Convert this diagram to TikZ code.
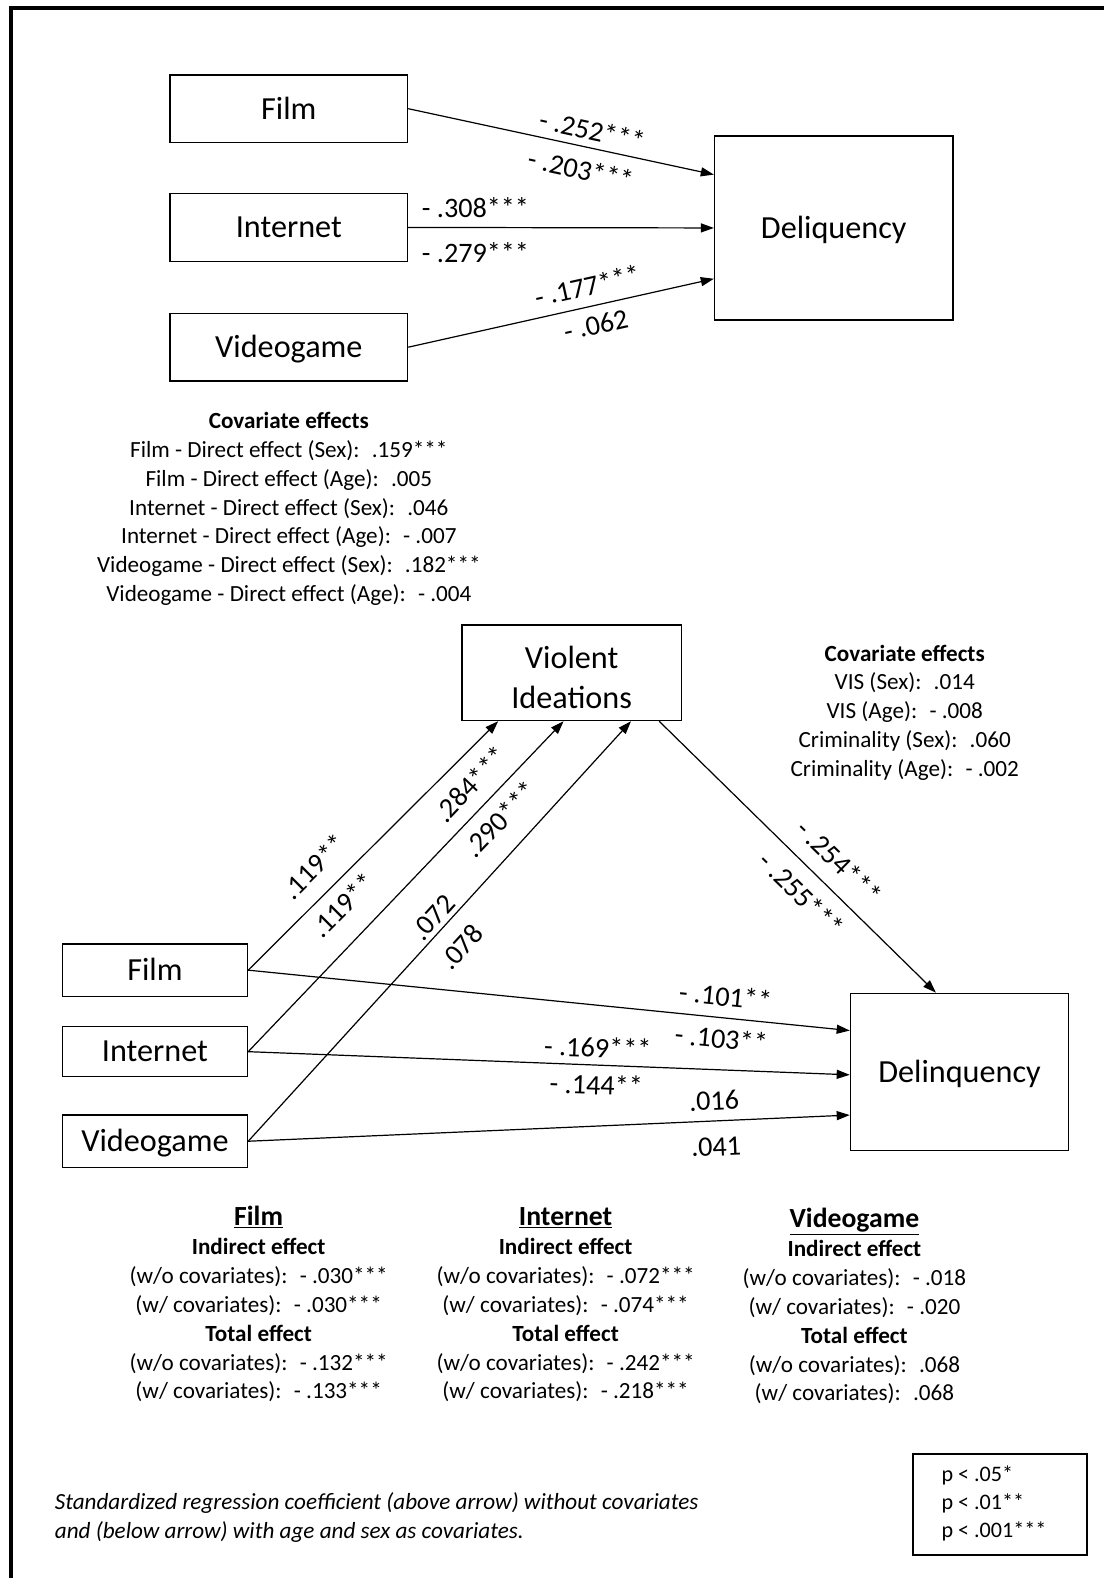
\documentclass[tikz,border=0pt]{standalone}
\usepackage{fontspec}
\setmainfont{Carlito}
\usetikzlibrary{arrows.meta}

\begin{document}
\begin{tikzpicture}[x=1pt, y=-1pt,
		varbox/.style={draw, line width=1.3pt, font=\fontsize{32}{40}\selectfont, align=center, text height=20.5pt, text depth=0pt},
		coef/.style={font=\fontsize{28}{32}\selectfont, inner sep=0pt},
		cov/.style={font=\fontsize{23}{28}\selectfont, anchor=base},
		covhead/.style={cov, font=\fontsize{23}{28}\selectfont\bfseries},
		link/.style={line width=1.2pt, -{Triangle[length=13pt, width=9pt]}}]

	\useasboundingbox (0,0) rectangle (1097,1568);

	% Outer frame, cut off at right and bottom
	\draw[line width=4.5pt] (11,1568) -- (11,8) -- (1097,8);

	% Top model: media use -> delinquency
	\node[varbox, minimum width=236pt, minimum height=67pt] (film1) at (287,108) {Film};
	\node[varbox, minimum width=236pt, minimum height=67pt] (inet1) at (287,226) {Internet};
	\node[varbox, minimum width=236pt, minimum height=67pt] (game1) at (287,345) {Videogame};
	\node[varbox, minimum width=237pt, minimum height=183pt] (deliq) at (828.5,226.5) {Deliquency};

	\draw[link] (film1.east) -- node[coef, sloped, above=7pt, pos=0.59] {- .252***}
		node[coef, sloped, below=12pt, pos=0.58] {- .203***} ([yshift=53pt]deliq.west);
	\draw[link] (inet1.east) -- node[coef, above=9pt, pos=0.22] {- .308***}
		node[coef, below=14pt, pos=0.22] {- .279***} (deliq.west);
	\draw[link] (game1.east) -- node[coef, sloped, above=10pt, pos=0.6] {- .177***}
		node[coef, sloped, below=9pt, pos=0.6] {- .062} ([yshift=-50.5pt]deliq.west);

	% Covariate effects, top model
	\node[covhead] (covtop) at (287,426) {Covariate effects};
	\foreach \txt [count=\i] in {
			{Film - Direct effect (Sex):~ .159***},
			{Film - Direct effect (Age):~ .005},
			{Internet - Direct effect (Sex):~ .046},
			{Internet - Direct effect (Age):~ - .007},
			{Videogame - Direct effect (Sex):~ .182***},
			{Videogame - Direct effect (Age):~ - .004}
		} {
			\node[cov] (covtop\i) at (287,{426+28.6*\i}) {\txt};
		}

	% Bottom model: media use -> violent ideations -> delinquency
	\node[varbox, minimum width=218pt, minimum height=95pt] (vis) at (568,668.5) {};
	\node[font=\fontsize{32}{40}\selectfont, align=center] (vistext) at ([yshift=-5pt]vis.center) {Violent\\Ideations};
	\node[varbox, minimum width=184pt, minimum height=52pt] (film2) at (154,964) {Film};
	\node[varbox, minimum width=184pt, minimum height=50pt] (inet2) at (154,1045) {Internet};
	\node[varbox, minimum width=184pt, minimum height=52pt] (game2) at (154,1134) {Videogame};
	\node[varbox, minimum width=217pt, minimum height=156pt] (delinq) at (953.5,1065) {Delinquency};

	\draw[link] (film2.east) -- node[coef, sloped, above=16pt, pos=0.34] {.119**}
		node[coef, sloped, below=10pt, pos=0.32] {.119**} ([xshift=-73pt]vis.south);
	\draw[link] (inet2.east) -- node[coef, sloped, above=13pt, pos=0.76] {.284***}
		node[coef, sloped, below=11pt, pos=0.75] {.290***} ([xshift=-8pt]vis.south);
	\draw[link] (game2.east) -- node[coef, sloped, above=4pt, pos=0.51] {.072}
		node[coef, sloped, below=16pt, pos=0.505] {.078} ([xshift=59pt]vis.south);
	\draw[link] ([xshift=87pt]vis.south) -- node[coef, sloped, above=15pt, pos=0.585] {- .254***}
		node[coef, sloped, below=13pt, pos=0.575] {- .255***} ([xshift=-23.5pt]delinq.north);

	\draw[link] (film2.east) -- node[coef, sloped, above=11pt, pos=0.79] {- .101**}
		node[coef, sloped, below=10pt, pos=0.79] {- .103**} ([yshift=41pt]delinq.west);
	\draw[link] (inet2.east) -- node[coef, sloped, above=7pt, pos=0.58] {- .169***}
		node[coef, sloped, below=9pt, pos=0.58] {- .144**} ([yshift=-3pt]delinq.west);
	\draw[link] (game2.east) -- node[coef, sloped, above=10pt, pos=0.776] {.016}
		node[coef, sloped, below=16pt, pos=0.776] {.041} ([yshift=-43pt]delinq.west);

	% Covariate effects, bottom model
	\node[covhead] (covbot) at (899,657) {Covariate effects};
	\foreach \txt [count=\i] in {
			{VIS (Sex):~ .014},
			{VIS (Age):~ - .008},
			{Criminality (Sex):~ .060},
			{Criminality (Age):~ - .002}
		} {
			\node[cov] (covbot\i) at (899,{657+28.6*\i}) {\txt};
		}

	% Indirect and total effects per medium
	\foreach \name/\x/\y/\ia/\ib/\ta/\tb in {
			Film/257/1218/- .030***/- .030***/- .132***/- .133***,
			Internet/562/1218/- .072***/- .074***/- .242***/- .218***,
			Videogame/849/1220/- .018/- .020/.068/.068
		} {
			\node[covhead, font=\fontsize{27.5}{30}\selectfont\bfseries] (head\name) at (\x,\y) {\underline{\name}};
			\node[covhead] (ind\name) at (\x,\y+29) {Indirect effect};
			\node[cov] (inda\name) at (\x,\y+57.5) {(w/o covariates):~ \ia};
			\node[cov] (indb\name) at (\x,\y+86) {(w/ covariates):~ \ib};
			\node[covhead] (tot\name) at (\x,\y+115) {Total effect};
			\node[cov] (tota\name) at (\x,\y+143.5) {(w/o covariates):~ \ta};
			\node[cov] (totb\name) at (\x,\y+172) {(w/ covariates):~ \tb};
		}

	% Note and significance levels
	\node[anchor=base west, font=\fontsize{23}{28}\selectfont\itshape] (note1) at (51,1500)
		{Standardized regression coefficient (above arrow) without covariates};
	\node[anchor=base west, font=\fontsize{23}{28}\selectfont\itshape] (note2) at (51,1529)
		{and (below arrow) with age and sex as covariates.};

	\node[draw, line width=1.5pt, minimum width=173pt, minimum height=100pt] (pbox) at (993.5,1495) {};
	\foreach \txt [count=\i] in {{p < .05*}, {p < .01**}, {p < .001***}} {
			\node[anchor=base west, font=\fontsize{22}{28}\selectfont] (p\i) at (932,{1445+27.5*\i}) {\txt};
		}

\end{tikzpicture}
\end{document}
